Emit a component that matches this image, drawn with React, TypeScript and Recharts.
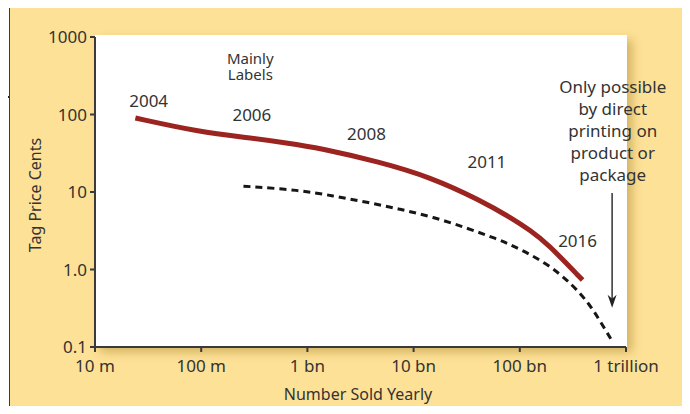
import { LineChart, Line, XAxis, YAxis, ReferenceDot, ReferenceLine, Label } from 'recharts';

// x = number sold per year, y = tag price in cents (both log)
const labelsX = [2.4e7, 9.8e7, 2.9e8, 6.4e8, 1.3e9, 4.8e9, 1.43e10, 4.2e10, 8.6e10, 1.25e11, 1.8e11, 3.9e11];
const labelsY = [90, 59, 50, 43, 37, 24.4, 15.6, 7.9, 4.5, 3.2, 2.2, 0.73];

const printX = [2.5e8, 8.5e8, 1.74e9, 3.64e9, 7.45e9, 1.52e10, 3.18e10, 6.1e10, 8.6e10, 1.8e11, 3.17e11, 4.58e11, 5.7e11, 7.5e11];
const printY = [11.9, 10.6, 8.9, 7.4, 6.0, 4.76, 3.43, 2.48, 2.04, 1.21, 0.63, 0.35, 0.216, 0.116];

const xTicks = [1e7, 1e8, 1e9, 1e10, 1e11, 1e12];
const xTickLabels = ['10 m', '100 m', '1 bn', '10 bn', '100 bn', '1 trillion'];
const yTicks = [0.1, 1, 10, 100, 1000];
const yTickLabels = ['0.1', '1.0', '10', '100', '1000'];

const years = ['2004', '2006', '2008', '2011', '2016'];
const yearX = [3.2e7, 3e8, 3.6e9, 4.9e10, 3.5e11];
const yearY = [150, 99, 56, 24, 2.3];

const noteLines = [['Mainly', 'Labels'], ['Only possible', 'by direct', 'printing on', 'product or', 'package']];
const noteX = [2.9e8, 7.5e11];
const noteY = [520, 226];

const arrowX = 7.4e11;
const arrowFrom = 9.7;
const arrowTo = 0.32;

const redData = labelsX.map((x, i) => ({ x, y: labelsY[i] }));
const dashData = printX.map((x, i) => ({ x, y: printY[i] }));

const FONT = '"Noto Sans", sans-serif';
const INK = '#333';

function MultiText({ cx, cy, lines, size, lh }: any) {
  return (
    <g>
      {lines.map((t: string, i: number) => (
        <text key={i} x={cx} y={cy + i * lh} dy="0.35em" textAnchor="middle" fontFamily={FONT} fontSize={size} fill={INK}>
          {t}
        </text>
      ))}
    </g>
  );
}

function Arrow({ x1, y1, x2, y2 }: any) {
  return (
    <g>
      <line x1={x1} y1={y1} x2={x2} y2={y2 - 8} stroke="#333" strokeWidth={1.5} />
      <path d={`M${x2},${y2} L${x2 - 4.5},${y2 - 13} L${x2},${y2 - 9} L${x2 + 4.5},${y2 - 13} Z`} fill="#222" />
    </g>
  );
}

export default function App() {
  return (
    <div style={{ position: 'relative', width: 690, height: 414, margin: -8, overflow: 'hidden', background: '#fff' }}>
      <div style={{ position: 'absolute', left: 0, top: 96, width: 10, height: 2, background: '#222' }} />
      <div style={{ position: 'absolute', left: 9, top: 6, width: 674, height: 430, background: '#fde196', border: '1.5px solid #3a3a3a', boxSizing: 'border-box' }} />
      <div style={{ position: 'absolute', left: 95, top: 35, width: 532, height: 312, background: '#fff', boxShadow: '5px 5px 9px rgba(150,110,20,0.4)' }} />
      <div style={{ position: 'absolute', left: 0, top: 0 }}>
        <LineChart width={690} height={414} margin={{ top: 37, right: 64, bottom: 37, left: 25 }}>
          <XAxis
            type="number"
            dataKey="x"
            scale="log"
            domain={[1e7, 1e12]}
            ticks={xTicks}
            allowDataOverflow
            height={30}
            tickSize={5}
            tickMargin={8}
            stroke="#3a3a3a"
            strokeWidth={2}
            tick={{ fontSize: 17, fill: INK, fontFamily: FONT }}
            tickFormatter={(v: number) => xTickLabels[xTicks.indexOf(v)] ?? ''}
          >
            <Label
              content={() => (
                <text x={358} y={400} textAnchor="middle" fontFamily={FONT} fontSize={16} fill={INK}>
                  Number Sold Yearly
                </text>
              )}
            />
          </XAxis>
          <YAxis
            type="number"
            dataKey="y"
            scale="log"
            domain={[0.1, 1000]}
            ticks={yTicks}
            allowDataOverflow
            width={70}
            tickSize={5}
            tickMargin={3}
            stroke="#3a3a3a"
            strokeWidth={2}
            tick={{ fontSize: 17, fill: INK, fontFamily: FONT }}
            tickFormatter={(v: number) => yTickLabels[yTicks.indexOf(v)] ?? ''}
          >
            <Label
              content={() => (
                <text x={41} y={195} transform="rotate(-90 41 195)" textAnchor="middle" fontFamily={FONT} fontSize={16} fill={INK}>
                  Tag Price Cents
                </text>
              )}
            />
          </YAxis>
          <Line data={dashData} dataKey="y" type="basis" stroke="#161616" strokeWidth={3} strokeDasharray="7 5" dot={false} isAnimationActive={false} />
          <Line data={redData} dataKey="y" type="basis" stroke="#9b2420" strokeWidth={5} dot={false} isAnimationActive={false} />
          {years.map((t, i) => (
            <ReferenceDot key={t} x={yearX[i]} y={yearY[i]} ifOverflow="visible"
              shape={(p: any) => <MultiText cx={p.cx} cy={p.cy} lines={[t]} size={17} lh={0} />} />
          ))}
          <ReferenceDot x={noteX[0]} y={noteY[0]} ifOverflow="visible"
            shape={(p: any) => <MultiText cx={p.cx} cy={p.cy} lines={noteLines[0]} size={15} lh={16} />} />
          <ReferenceDot x={noteX[1]} y={noteY[1]} ifOverflow="visible"
            shape={(p: any) => <MultiText cx={p.cx} cy={p.cy} lines={noteLines[1]} size={17} lh={22} />} />
          <ReferenceLine segment={[{ x: arrowX, y: arrowFrom }, { x: arrowX, y: arrowTo }]} ifOverflow="visible"
            shape={(p: any) => <Arrow {...p} />} />
        </LineChart>
      </div>
    </div>
  );
}
